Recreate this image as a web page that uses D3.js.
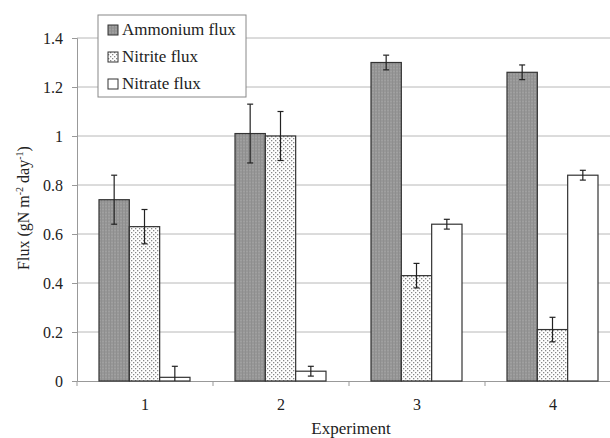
<!DOCTYPE html>
<html>
<head>
<meta charset="utf-8">
<title>Flux chart</title>
<script src="https://d3js.org/d3.v7.min.js"></script>
<style>
  body { margin: 0; background: #fff; }
  text { font-family: "Liberation Serif", "Times New Roman", serif; fill: #222; }
</style>
</head>
<body>
<script>
// data
const experiments = ["1", "2", "3", "4"];
const seriesNames = ["Ammonium flux", "Nitrite flux", "Nitrate flux"];
const ammonium = [0.74, 1.01, 1.30, 1.26];
const ammoniumErr = [0.10, 0.12, 0.03, 0.03];
const nitrite = [0.63, 1.00, 0.43, 0.21];
const nitriteErr = [0.07, 0.10, 0.05, 0.05];
const nitrate = [0.015, 0.04, 0.64, 0.84];
const nitrateErr = [0.045, 0.02, 0.02, 0.02];
const yTicks = [0, 0.2, 0.4, 0.6, 0.8, 1, 1.2, 1.4];

const svgWidth = 610, svgHeight = 438;
const margin = { top: 38, right: -11, bottom: 57, left: 77 };
const width = svgWidth - margin.left - margin.right;
const height = svgHeight - margin.top - margin.bottom;

const svg = d3.select("body").append("svg")
    .attr("width", svgWidth)
    .attr("height", svgHeight);

// patterns
const defs = svg.append("defs");
const pA = defs.append("pattern").attr("id", "patA")
    .attr("patternUnits", "userSpaceOnUse").attr("width", 3).attr("height", 3);
pA.append("rect").attr("width", 3).attr("height", 3).attr("fill", "#979797");
pA.append("rect").attr("width", 3).attr("height", 1).attr("fill", "#a0a0a0");
pA.append("rect").attr("width", 1).attr("height", 3).attr("fill", "#8e8e8e");

const pN = defs.append("pattern").attr("id", "patN")
    .attr("patternUnits", "userSpaceOnUse").attr("width", 4).attr("height", 4);
pN.append("rect").attr("width", 4).attr("height", 4).attr("fill", "#fff");
pN.append("rect").attr("x", 0).attr("y", 0).attr("width", 1.3).attr("height", 1.3).attr("fill", "#888");
pN.append("rect").attr("x", 2).attr("y", 2).attr("width", 1.3).attr("height", 1.3).attr("fill", "#888");

const fills = ["url(#patA)", "url(#patN)", "#fff"];

const g = svg.append("g").attr("transform", `translate(${margin.left},${margin.top})`);

const x0 = d3.scaleBand().domain(experiments).range([0, width]).paddingInner(0).paddingOuter(0);
const x1 = d3.scaleBand().domain(seriesNames).range([22, x0.bandwidth() - 23]);
const y = d3.scaleLinear().domain([0, 1.4]).range([height, 0]);

// grid
g.selectAll(".grid").data(yTicks.slice(1)).join("line")
    .attr("x1", 0).attr("x2", width)
    .attr("y1", d => y(d)).attr("y2", d => y(d))
    .attr("stroke", "#b8b8b8").attr("stroke-width", 1);

// y axis
const yAxis = g.append("g")
    .call(d3.axisLeft(y).tickValues(yTicks).tickSize(5).tickPadding(9)
        .tickFormat(d => d3.format("~g")(d)));
yAxis.select(".domain").attr("stroke", "#999");
yAxis.selectAll(".tick line").attr("stroke", "#999");
yAxis.selectAll("text").style("font-size", "16px").attr("fill", "#333");

// x axis
const xAxis = g.append("g").attr("transform", `translate(0,${height})`)
    .call(d3.axisBottom(x0).tickSize(0).tickPadding(18));
xAxis.select(".domain").attr("stroke", "#999");
xAxis.selectAll("text").style("font-size", "16px").attr("fill", "#333");
// boundary ticks between categories
g.selectAll(".bt").data(experiments).join("line")
    .attr("x1", d => x0(d)).attr("x2", d => x0(d))
    .attr("y1", height).attr("y2", height + 5)
    .attr("stroke", "#999");

// bars
const rows = experiments.map((e, i) => [
    { e, s: seriesNames[0], v: ammonium[i], err: ammoniumErr[i], k: 0 },
    { e, s: seriesNames[1], v: nitrite[i], err: nitriteErr[i], k: 1 },
    { e, s: seriesNames[2], v: nitrate[i], err: nitrateErr[i], k: 2 }
]).flat();

g.selectAll(".bar").data(rows).join("rect")
    .attr("x", d => x0(d.e) + x1(d.s))
    .attr("y", d => y(d.v))
    .attr("width", x1.bandwidth())
    .attr("height", d => y(0) - y(d.v))
    .attr("fill", d => fills[d.k])
    .attr("stroke", "#333").attr("stroke-width", 1.2);

// error bars
const eb = g.selectAll(".eb").data(rows).join("g")
    .attr("transform", d => `translate(${x0(d.e) + x1(d.s) + x1.bandwidth() / 2},0)`);
eb.append("line")
    .attr("y1", d => y(d.v + d.err)).attr("y2", d => y(Math.max(0, d.v - d.err)))
    .attr("stroke", "#222").attr("stroke-width", 1.2);
eb.append("line").attr("x1", -3).attr("x2", 3)
    .attr("y1", d => y(d.v + d.err)).attr("y2", d => y(d.v + d.err))
    .attr("stroke", "#222").attr("stroke-width", 1.2);
eb.filter(d => d.v - d.err > 0).append("line").attr("x1", -3).attr("x2", 3)
    .attr("y1", d => y(d.v - d.err)).attr("y2", d => y(d.v - d.err))
    .attr("stroke", "#222").attr("stroke-width", 1.2);

// axis titles
svg.append("text")
    .attr("transform", `translate(29,208) rotate(-90)`)
    .attr("text-anchor", "middle")
    .style("font-size", "16px")
    .call(t => {
        t.append("tspan").text("Flux (gN m");
        t.append("tspan").attr("dy", -6).style("font-size", "10px").text("-2");
        t.append("tspan").attr("dy", 6).text(" day");
        t.append("tspan").attr("dy", -6).style("font-size", "10px").text("-1");
        t.append("tspan").attr("dy", 6).text(")");
    });

svg.append("text")
    .attr("x", margin.left + 274).attr("y", 434)
    .attr("text-anchor", "middle")
    .style("font-size", "17px")
    .text("Experiment");

// legend
const legend = svg.append("g").attr("transform", "translate(98,15)");
legend.append("rect").attr("width", 148).attr("height", 82)
    .attr("fill", "#fff").attr("stroke", "#888");
const li = legend.selectAll(".li").data(seriesNames).join("g")
    .attr("transform", (d, i) => `translate(10,${20 + i * 27})`);
li.append("rect").attr("x", 0).attr("y", -10).attr("width", 10).attr("height", 10)
    .attr("fill", (d, i) => fills[i]).attr("stroke", "#333");
li.append("text").attr("x", 14).attr("y", 0)
    .style("font-size", "17px")
    .text(d => d);
</script>
</body>
</html>
